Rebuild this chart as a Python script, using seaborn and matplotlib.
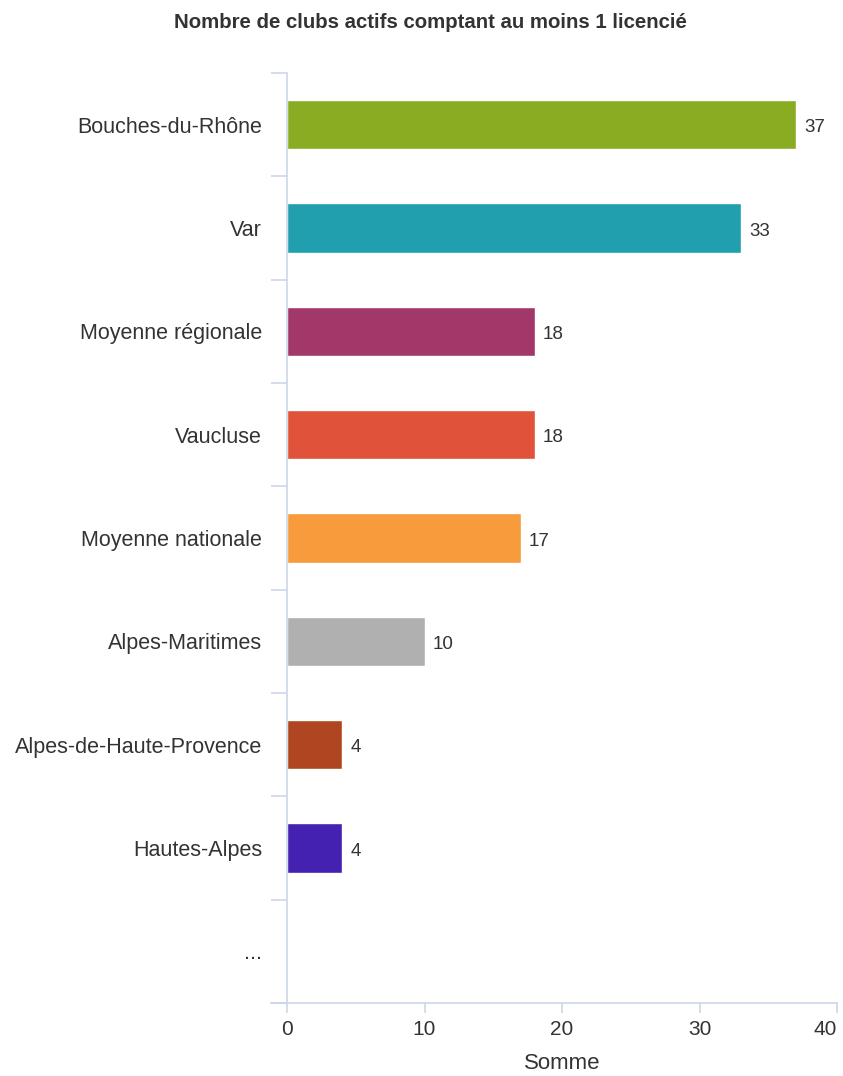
import pandas as pd
import matplotlib.pyplot as plt
import seaborn as sns
from matplotlib.ticker import FixedLocator

categories = ['Bouches-du-Rhône', 'Var', 'Moyenne régionale', 'Vaucluse',
              'Moyenne nationale', 'Alpes-Maritimes', 'Alpes-de-Haute-Provence',
              'Hautes-Alpes']
values = [37, 33, 18, 18, 17, 10, 4, 4]
extra_label = '...'
colors = ['#8aac23', '#219fae', '#a2386a', '#e0523a', '#f79b3c', '#b0b0b0',
          '#b04522', '#4421b0']
x_ticks = [0, 10, 20, 30, 40]

df = pd.DataFrame({'Departement': categories, 'Somme': values})
order = categories + [extra_label]

sns.set_style('white')
plt.rcParams['font.family'] = ['Liberation Sans', 'DejaVu Sans']
txt = '#333333'
axis_col = '#ccd6eb'

fig = plt.figure(figsize=(8.43, 10.76), dpi=100)
ax = fig.add_axes([0.3405, 0.0678, 0.6524, 0.8644])

sns.barplot(data=df, y='Departement', x='Somme', hue='Departement', order=order,
            palette=dict(zip(categories, colors)), legend=False, width=0.48,
            saturation=1, ax=ax)

# valeurs a droite des barres
for i, v in enumerate(values):
    ax.text(v + 0.6, i + 0.03, str(v), va='center', ha='left', fontsize=13.5, color=txt)

ax.set_xlim(0, 40)
ax.set_ylim(len(order) - 0.5, -0.5)
ax.set_xticks(x_ticks)
ax.set_yticks(range(len(order)))
ax.set_yticklabels(order)
ax.yaxis.set_minor_locator(FixedLocator([i - 0.5 for i in range(len(order) + 1)]))
ax.tick_params(axis='y', which='major', length=0, pad=18, labelsize=15.5, labelcolor=txt)
ax.tick_params(axis='y', which='minor', length=11.5, width=1.2, color=axis_col, left=True)
ax.tick_params(axis='x', length=7, width=1.2, color=axis_col, labelsize=15,
               labelcolor=txt, pad=5, bottom=True)
ax.get_xticklabels()[-1].set_horizontalalignment('right')

for s in ['top', 'right']:
    ax.spines[s].set_visible(False)
for s in ['left', 'bottom']:
    ax.spines[s].set_color(axis_col)
    ax.spines[s].set_linewidth(1.2)
ax.spines['bottom'].set_bounds(-1.15, 40)
ax.spines['bottom'].set_clip_on(False)

ax.set_ylabel('')
ax.set_xlabel('Somme', fontsize=16, color=txt, labelpad=10)

fig.suptitle('Nombre de clubs actifs comptant au moins 1 licencié', fontsize=14.7,
             fontweight='bold', color=txt, x=0.511, y=0.988)

plt.savefig('out.png', dpi=100)
